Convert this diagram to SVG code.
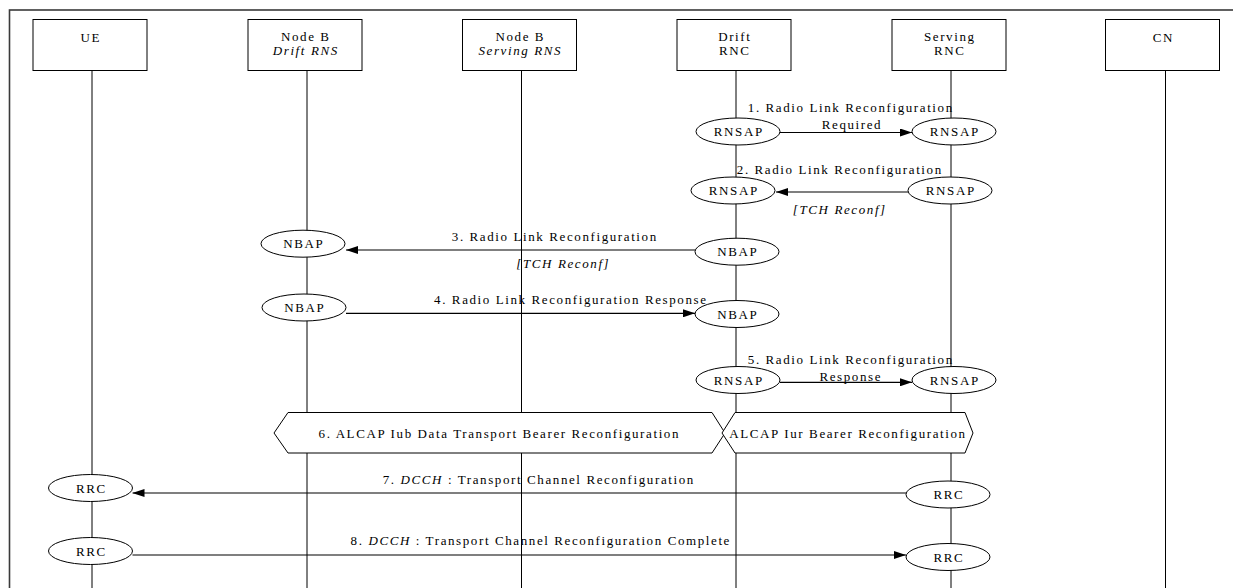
<svg xmlns="http://www.w3.org/2000/svg" width="1233" height="588" viewBox="0 0 1233 588">
<defs>
<marker id="ah" viewBox="0 0 12 8" refX="12" refY="4" markerWidth="12" markerHeight="8" markerUnits="userSpaceOnUse" orient="auto"><path d="M0,0 L12,4 L0,8 z" fill="#000"/></marker>
</defs>
<style>
text{font-family:"Liberation Serif","Times New Roman",serif;font-size:13px;letter-spacing:1.6px;fill:#000;text-anchor:middle}
.it{font-style:italic}
.box{fill:#fff;stroke:#000;stroke-width:1}
.life{stroke:#000;stroke-width:1}
.ell{fill:#fff;stroke:#000;stroke-width:1}
.msg{stroke:#000;stroke-width:1.2;fill:none;marker-end:url(#ah)}
.hex{fill:#fff;stroke:#000;stroke-width:1}
.frame{fill:none;stroke:#3a3a3a;stroke-width:1.6}
</style>
<rect class="frame" x="9.5" y="10" width="1300" height="700"/>
<g id="lifelines">
<line class="life" x1="92" y1="70" x2="92" y2="588"/>
<line class="life" x1="307" y1="70" x2="307" y2="588"/>
<line class="life" x1="521.5" y1="70" x2="521.5" y2="588"/>
<line class="life" x1="736" y1="70" x2="736" y2="588"/>
<line class="life" x1="951" y1="70" x2="951" y2="588"/>
<line class="life" x1="1165.5" y1="70" x2="1165.5" y2="588"/>
</g>
<g id="node-ue"><rect class="box" x="33" y="19.5" width="114" height="51"/><text x="90.8" y="41.5">UE</text></g>
<g id="node-nodeb-drift"><rect class="box" x="248" y="19.5" width="114" height="51"/><text x="305.8" y="40.5">Node B</text><text class="it" x="305.8" y="55">Drift RNS</text></g>
<g id="node-nodeb-serving"><rect class="box" x="462.5" y="19.5" width="114" height="51"/><text x="520.3" y="40.5">Node B</text><text class="it" x="520.3" y="55">Serving RNS</text></g>
<g id="node-drift-rnc"><rect class="box" x="677" y="19.5" width="114" height="51"/><text x="734.8" y="40.5">Drift</text><text x="734.8" y="55">RNC</text></g>
<g id="node-serving-rnc"><rect class="box" x="892" y="19.5" width="114" height="51"/><text x="949.8" y="40.5">Serving</text><text x="949.8" y="55">RNC</text></g>
<g id="node-cn"><rect class="box" x="1105.5" y="19.5" width="114" height="51"/><text x="1163.3" y="41.5">CN</text></g>

<g id="alcap-iub"><path class="hex" d="M274,433 L288,412.5 L712,412.5 L725,433 L712,453 L288,453 Z"/><text x="499.3" y="438">6. ALCAP Iub Data Transport Bearer Reconfiguration</text></g>
<g id="alcap-iur"><path class="hex" d="M722,433 L735,412.5 L965,412.5 L973,433 L965,453 L735,453 Z"/><text x="848" y="438">ALCAP Iur Bearer Reconfiguration</text></g>

<g id="connectors">
<path class="msg" d="M780,132.5 H912"/>
<path class="msg" d="M908,192 H776"/>
<path class="msg" d="M695,250 H346"/>
<path class="msg" d="M346,313.3 H695"/>
<path class="msg" d="M780,382.3 H912"/>
<path class="msg" d="M906,493 H132.5"/>
<path class="msg" d="M132.5,555 H906"/>
<text x="850.8" y="112">1. Radio Link Reconfiguration</text>
<text x="852" y="129">Required</text>
<text x="839.8" y="173.5">2. Radio Link Reconfiguration</text>
<text class="it" x="839.8" y="214">[TCH Reconf]</text>
<text x="554.8" y="241">3. Radio Link Reconfiguration</text>
<text class="it" x="563.3" y="268">[TCH Reconf]</text>
<text x="570.8" y="303.5">4. Radio Link Reconfiguration Response</text>
<text x="850.8" y="364">5. Radio Link Reconfiguration</text>
<text x="850.8" y="381">Response</text>
<text x="538.8" y="483.5">7. <tspan class="it">DCCH</tspan> : Transport Channel Reconfiguration</text>
<text x="540.8" y="545">8. <tspan class="it">DCCH</tspan> : Transport Channel Reconfiguration Complete</text>
</g>

<g id="m1-drift-rnsap"><ellipse class="ell" cx="738" cy="131.5" rx="42" ry="13.5"/><text x="738.8" y="136">RNSAP</text></g>
<g id="m1-serving-rnsap"><ellipse class="ell" cx="954" cy="131.5" rx="42" ry="13.5"/><text x="954.8" y="136">RNSAP</text></g>
<g id="m2-drift-rnsap"><ellipse class="ell" cx="733" cy="190.5" rx="42" ry="13.5"/><text x="733.8" y="195">RNSAP</text></g>
<g id="m2-serving-rnsap"><ellipse class="ell" cx="950" cy="190.5" rx="42" ry="13.5"/><text x="950.8" y="195">RNSAP</text></g>
<g id="m3-nodeb-nbap"><ellipse class="ell" cx="303" cy="243.7" rx="42" ry="13.5"/><text x="303.8" y="248.2">NBAP</text></g>
<g id="m3-drift-nbap"><ellipse class="ell" cx="737" cy="251.7" rx="42" ry="13.5"/><text x="737.8" y="256.2">NBAP</text></g>
<g id="m4-nodeb-nbap"><ellipse class="ell" cx="304" cy="307.5" rx="42" ry="13.5"/><text x="304.8" y="312">NBAP</text></g>
<g id="m4-drift-nbap"><ellipse class="ell" cx="737" cy="314" rx="42" ry="13.5"/><text x="737.8" y="318.5">NBAP</text></g>
<g id="m5-drift-rnsap"><ellipse class="ell" cx="738" cy="380" rx="42" ry="13.5"/><text x="738.8" y="384.5">RNSAP</text></g>
<g id="m5-serving-rnsap"><ellipse class="ell" cx="954" cy="380" rx="42" ry="13.5"/><text x="954.8" y="384.5">RNSAP</text></g>
<g id="m7-ue-rrc"><ellipse class="ell" cx="90.5" cy="488" rx="42" ry="13.5"/><text x="91.3" y="492.5">RRC</text></g>
<g id="m7-serving-rrc"><ellipse class="ell" cx="948" cy="494.5" rx="42" ry="13.5"/><text x="948.8" y="499">RRC</text></g>
<g id="m8-ue-rrc"><ellipse class="ell" cx="90.5" cy="551" rx="42" ry="13.5"/><text x="91.3" y="555.5">RRC</text></g>
<g id="m8-serving-rrc"><ellipse class="ell" cx="948" cy="557" rx="42" ry="13.5"/><text x="948.8" y="561.5">RRC</text></g>
</svg>
